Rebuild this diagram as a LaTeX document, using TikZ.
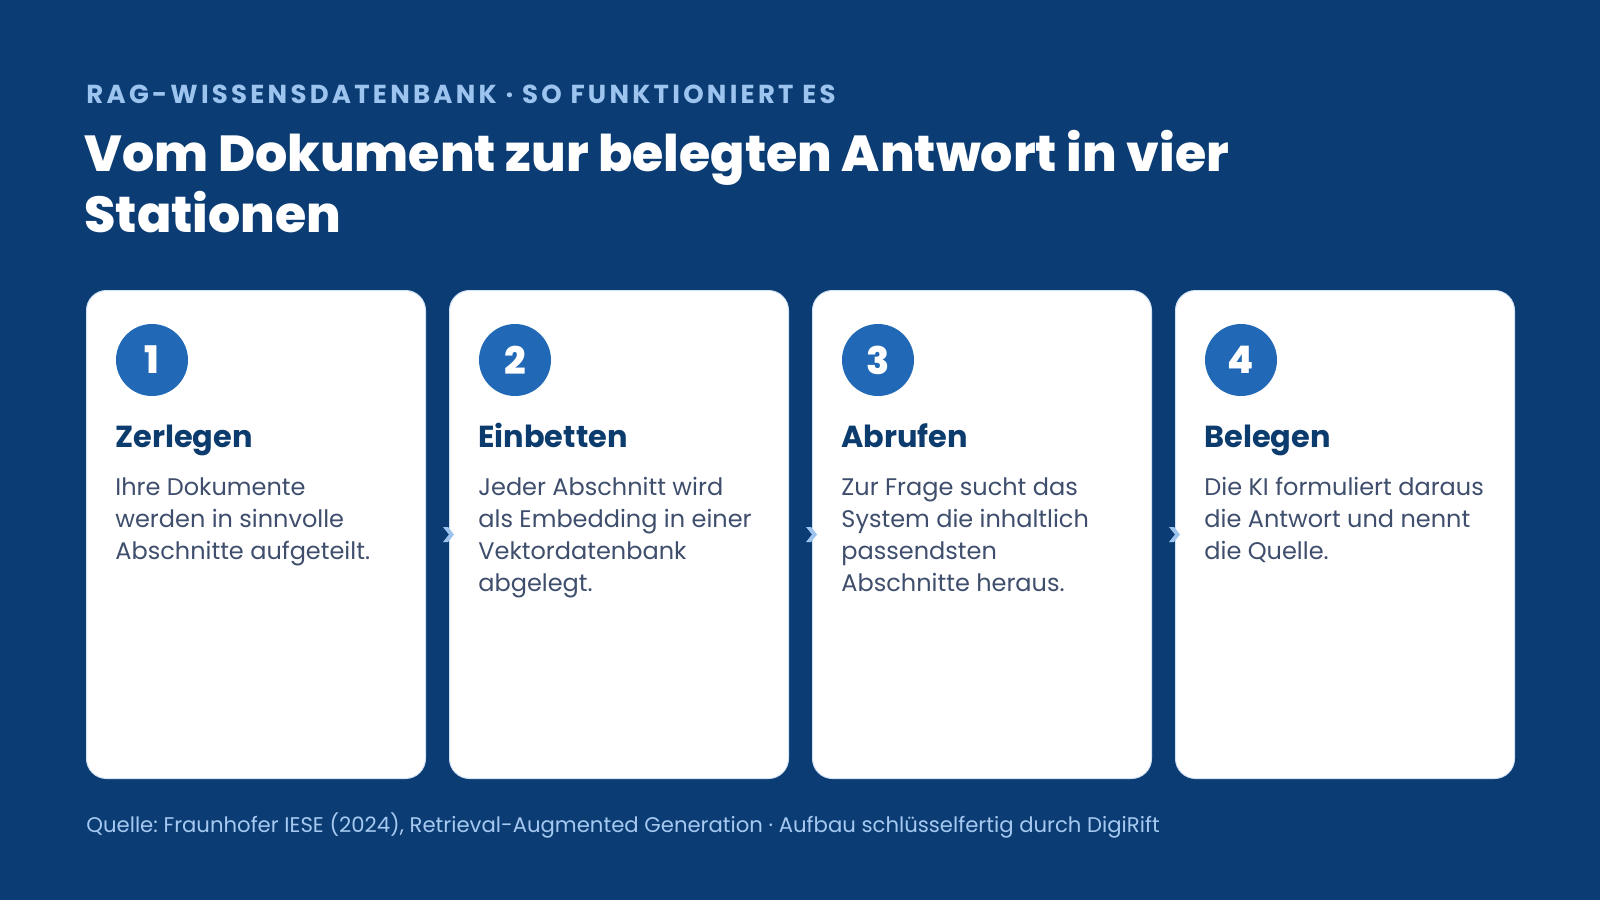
\documentclass[tikz,border=0pt]{standalone}
\usepackage{fontspec}
\setmainfont{Poppins}
\newfontfamily\heavyfont{Poppins ExtraBold}
\newfontfamily\kickerfont{Poppins}[LetterSpace=12.5]
\usetikzlibrary{positioning}
\frenchspacing
\definecolor{bgnavy}{HTML}{0B3D74}
\definecolor{circblue}{HTML}{2169B6}
\definecolor{headnavy}{HTML}{0C3B6E}
\definecolor{bodygray}{HTML}{3E4E6C}
\definecolor{kickblue}{HTML}{9DC4EE}
\definecolor{footblue}{HTML}{A6C9F1}
\definecolor{cardedge}{HTML}{D3E3F6}

\tikzset{
  card/.style={draw=cardedge, line width=0.5pt, fill=white, rounded corners=10pt,
    minimum width=169.5pt, minimum height=244pt, inner sep=0pt, anchor=north west},
  badge/.style={circle, fill=circblue, minimum size=36pt, inner sep=0pt,
    text=white, font=\heavyfont\fontsize{19}{19}\selectfont},
  cardhead/.style={anchor=base west, inner sep=0pt, text=headnavy,
    font=\bfseries\fontsize{15.2}{17}\selectfont},
  cardbody/.style={anchor=base west, inner sep=0pt, align=left, text=bodygray,
    font=\fontsize{12}{16.1}\selectfont},
  chevron/.style={fill=kickblue}
}

\begin{document}
\begin{tikzpicture}[x=0.5pt, y=-0.5pt]
  \def\cw{339}     % card width in px
  \def\pitch{363}  % card pitch (width + gap)
  \def\ctop{290}   % top edge of the cards
  \def\pad{29}     % inner left padding
  \def\lh{32.2}    % body line height in px

  % backdrop
  \fill[bgnavy] (0,0) rectangle (1600,900);
  \useasboundingbox (0,0) rectangle (1600,900);

  % kicker and title (multi-line nodes sit on their last baseline)
  \node[anchor=base west, inner sep=0pt, text=kickblue,
    font=\kickerfont\bfseries\fontsize{13}{14}\selectfont] (kicker) at (86,103)
    {RAG-WISSENSDATENBANK · SO FUNKTIONIERT ES};
  \node[anchor=base west, inner sep=0pt, align=left, text=white,
    font=\heavyfont\fontsize{25.3}{30.5}\selectfont] (title) at (84,232)
    {Vom Dokument zur belegten Antwort in vier\\Stationen};

  % the four stations
  \foreach \i/\n/\head/\body in {
      1/3/Zerlegen/{Ihre Dokumente\\werden in sinnvolle\\Abschnitte aufgeteilt.},
      2/4/Einbetten/{Jeder Abschnitt wird\\als Embedding in einer\\Vektordatenbank\\abgelegt.},
      3/4/Abrufen/{Zur Frage sucht das\\System die inhaltlich\\passendsten\\Abschnitte heraus.},
      4/3/Belegen/{Die KI formuliert daraus\\die Antwort und nennt\\die Quelle.}} {
    \pgfmathsetmacro{\cx}{86+(\i-1)*\pitch}
    \node[card] (card\i) at (\cx,\ctop) {};
    \node[badge] (badge\i) at (\cx+66,360) {\i};
    \node[cardhead] (head\i) at (\cx+\pad,447) {\head};
    \node[cardbody] (body\i) at (\cx+\pad,{495+(\n-1)*\lh}) {\body};
  }

  % small chevrons on the seams
  \foreach \i in {2,3,4} {
    \coordinate (seam\i) at ([xshift=-0.5pt]card\i.west);
    \fill[chevron] (seam\i) ++(-5,-7.5) -- ++(5,0) -- ++(6,7.5) -- ++(-6,7.5)
      -- ++(-5,0) -- ++(6,-7.5) -- cycle;
  }

  % source line
  \node[anchor=base west, inner sep=0pt, text=footblue,
    font=\fontsize{10.6}{12}\selectfont] (source) at (86,832)
    {Quelle: Fraunhofer IESE (2024), Retrieval-Augmented Generation · Aufbau schlüsselfertig durch DigiRift};
\end{tikzpicture}
\end{document}
